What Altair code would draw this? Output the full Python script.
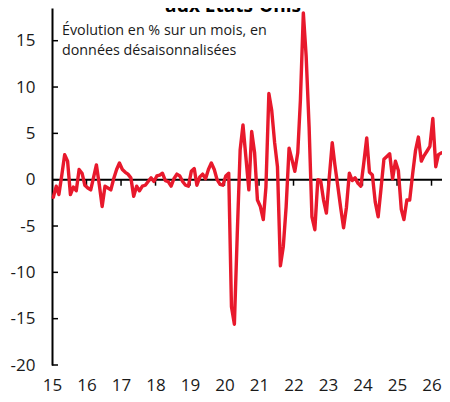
import altair as alt
import pandas as pd

# Monthly % change (seasonally adjusted), Jan 2015 - Apr 2026
v2015 = [-1.9, -0.7, -1.6, 0.5, 2.7, 2.0, -1.6, -0.8, -1.2, 1.1, 0.7, -0.6]
v2016 = [-0.9, -1.1, 0.2, 1.6, -0.5, -2.9, -0.7, -0.9, -1.1, 0.1, 1.1, 1.8]
v2017 = [1.1, 0.8, 0.6, 0.2, -1.8, -0.7, -1.2, -0.7, -0.6, -0.2, 0.2, -0.2]
v2018 = [0.4, 0.5, 0.7, -0.1, -0.2, -0.7, 0.1, 0.6, 0.4, -0.2, -0.6, -0.7]
v2019 = [0.9, 1.2, -0.6, 0.3, 0.6, 0.1, 1.1, 1.8, 1.1, 0.0, -0.5, -0.6]
v2020 = [0.4, 0.7, -13.7, -15.6, -6.0, 3.2, 5.9, 2.4, -1.1, 5.2, 2.9, -2.2]
v2021 = [-2.9, -4.3, -0.8, 9.3, 7.5, 4.0, 1.4, -9.3, -7.2, -2.9, 3.4, 2.2]
v2022 = [0.9, 2.9, 8.6, 18.0, 13.3, 5.7, -4.0, -5.4, 0.0, -0.1, -2.2, -3.6]
v2023 = [0.3, 4.0, 1.6, -0.7, -3.0, -5.2, -3.0, 0.7, -0.1, 0.2, -0.4, -0.7]
v2024 = [1.8, 4.5, 0.8, 0.5, -2.4, -4.0, -1.0, 2.2, 2.5, 2.8, 0.1, 2.0]
v2025 = [1.0, -3.2, -4.3, -2.2, -2.2, 0.6, 3.1, 4.6, 2.0, 2.6, 3.1, 3.6]
v2026 = [6.6, 1.4, 2.7, 2.9]

y_ticks = [-20, -15, -10, -5, 0, 5, 10, 15]
year_ticks = list(range(2015, 2027))

title_tail = "aux Etats-Unis"
subtitle_1 = "Évolution en % sur un mois, en"
subtitle_2 = "données désaisonnalisées"

values = v2015 + v2016 + v2017 + v2018 + v2019 + v2020 + v2021 + v2022 + v2023 + v2024 + v2025 + v2026
dates = pd.date_range("2015-01-01", periods=len(values), freq="MS") + pd.Timedelta(days=14)
df = pd.DataFrame({"date": dates, "value": values})

RED = "#e8192c"
FONT = "Open Sans"
TXT = "#1a1a1a"

xscale = alt.Scale(domain=[alt.DateTime(year=2015, month=1, date=1),
                           alt.DateTime(year=2026, month=4, date=22)])
yscale = alt.Scale(domain=[-20, 18.53], nice=False, zero=False)

xaxis = alt.Axis(
    values=[alt.DateTime(year=y, month=1, date=1) for y in year_ticks],
    labelExpr="timeFormat(datum.value, '%y')",
    domain=False, ticks=False, tickSize=0, grid=False,
    labelPadding=12, labelFontSize=17, labelFont=FONT, labelColor=TXT,
    labelFlush=False, labelOverlap=False, title=None,
)
yaxis = alt.Axis(
    values=y_ticks, labelExpr="'' + datum.value",
    domainColor="black", domainWidth=2, ticks=False, tickSize=0, grid=False,
    labelPadding=17, labelFontSize=17, labelFont=FONT, labelColor=TXT, title=None,
)

zero = alt.Chart(pd.DataFrame({"value": [0]})).mark_rule(color="black", strokeWidth=2).encode(
    y=alt.Y("value:Q", scale=yscale, axis=yaxis, title=None)
)

ytick_df = pd.DataFrame({"value": y_ticks})
yt = alt.Chart(ytick_df).mark_rule(color="black", strokeWidth=1.5).encode(
    y=alt.Y("value:Q", scale=yscale, title=None),
    x=alt.value(0), x2=alt.value(6),
)

xtick_df = pd.DataFrame({"date": pd.to_datetime([f"{y}-01-01" for y in year_ticks[1:]])})
xt = alt.Chart(xtick_df).mark_rule(color="black", strokeWidth=1.5).encode(
    x=alt.X("date:T", scale=xscale, axis=xaxis, title=None),
    y=alt.datum(0), y2=alt.datum(-0.65),
)

line = alt.Chart(df).mark_line(color=RED, strokeWidth=3.4, strokeJoin="round", strokeCap="round").encode(
    x=alt.X("date:T", scale=xscale, axis=xaxis, title=None),
    y=alt.Y("value:Q", scale=yscale, axis=yaxis, title=None),
)

sub1 = alt.Chart(pd.DataFrame({"t": [subtitle_1]})).mark_text(
    align="left", baseline="alphabetic", font=FONT, fontSize=14.3, color=TXT
).encode(x=alt.value(10), y=alt.value(27), text="t:N")
sub2 = alt.Chart(pd.DataFrame({"t": [subtitle_2]})).mark_text(
    align="left", baseline="alphabetic", font=FONT, fontSize=14.3, color=TXT
).encode(x=alt.value(10), y=alt.value(46.5), text="t:N")

ttl = alt.Chart(pd.DataFrame({"t": [title_tail]})).mark_text(
    align="center", baseline="alphabetic", font=FONT, fontSize=19, fontWeight="bold", color="black"
).encode(x=alt.value(181), y=alt.value(4), text="t:N")

chart = alt.layer(zero, yt, xt, line, sub1, sub2, ttl).properties(
    width=390, height=357,
    padding={"left": 44, "top": 0, "right": 0, "bottom": 29},
    autosize=alt.AutoSizeParams(type="none"),
).configure_view(stroke=None)

chart.save("out.html", embed_options={"renderer": "svg", "actions": False})
